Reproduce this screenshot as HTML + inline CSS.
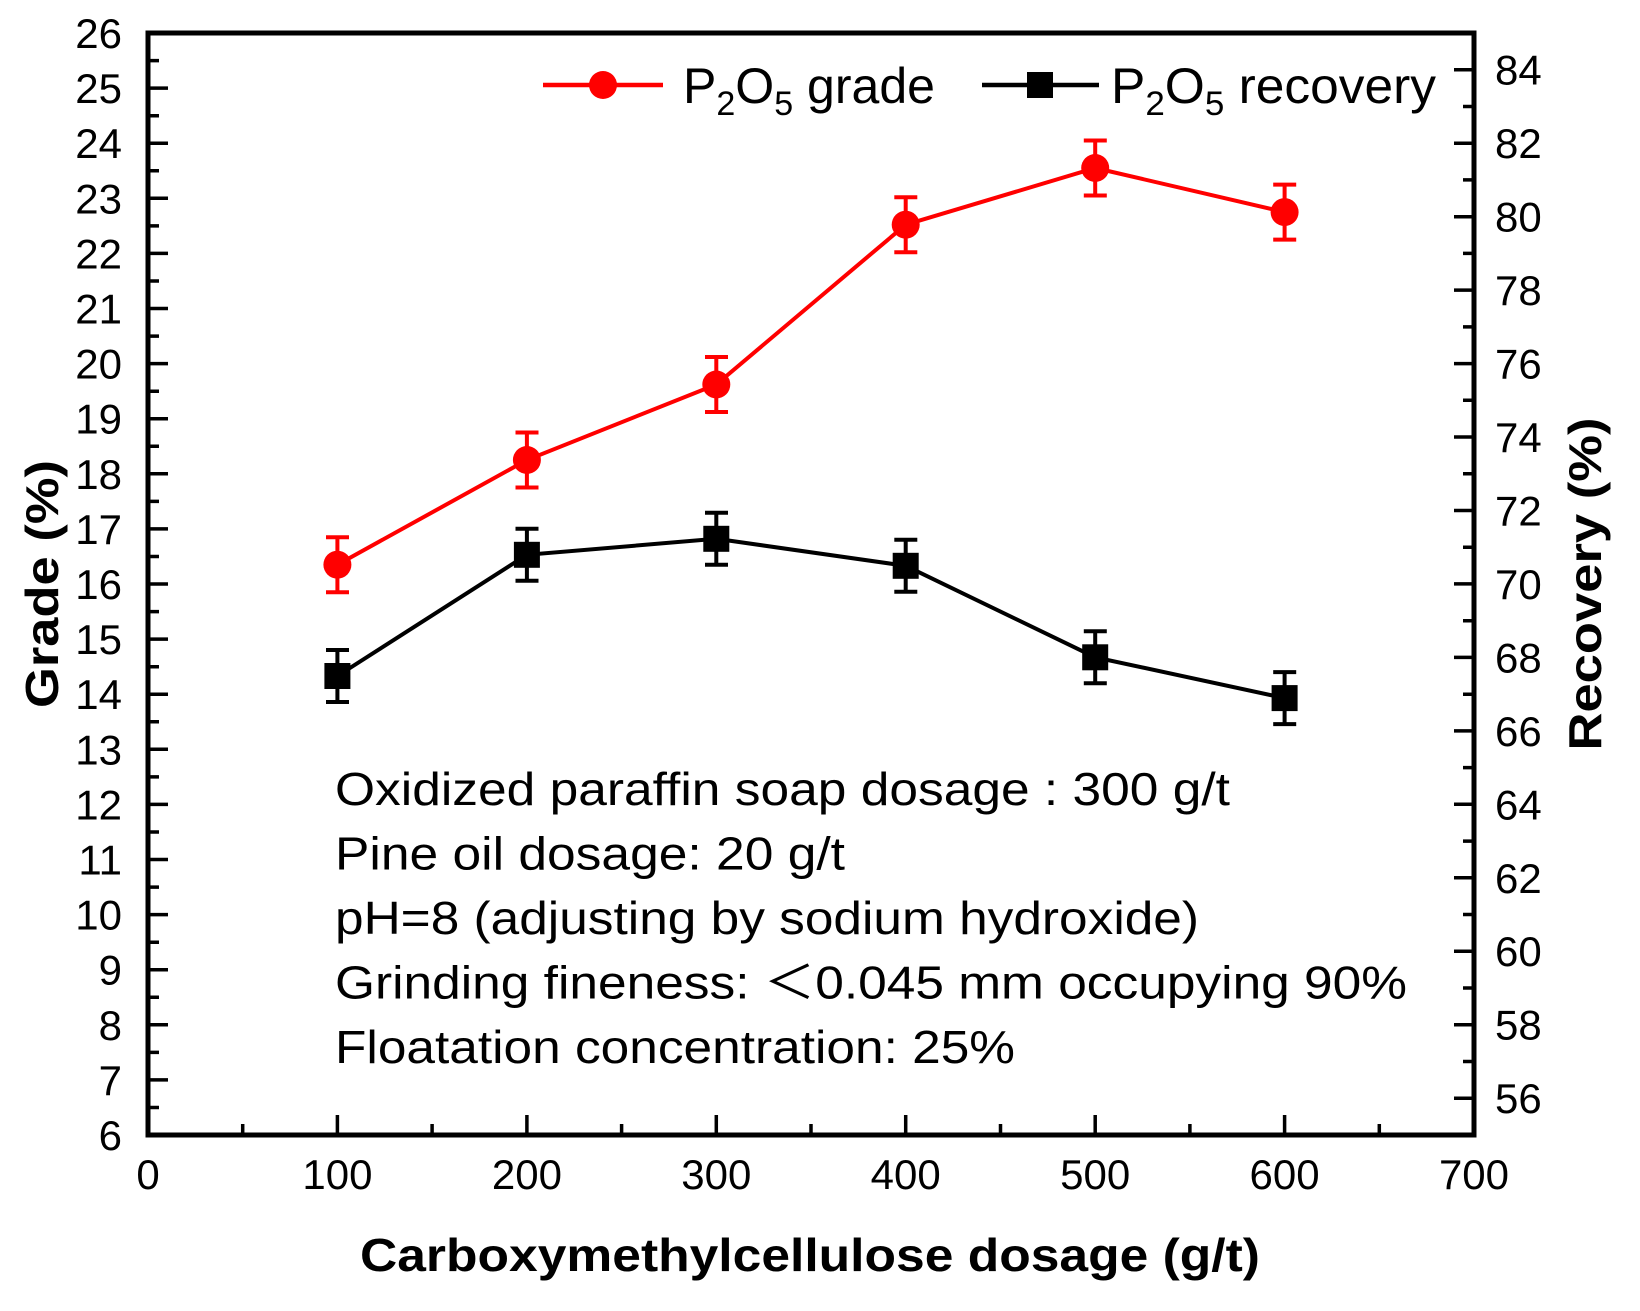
<!DOCTYPE html>
<html><head><meta charset="utf-8"><style>
html,body{margin:0;padding:0;background:#fff;}
svg{display:block;}
text{font-family:"Liberation Sans",Arial,sans-serif;}
</style></head><body>
<svg width="1640" height="1311" viewBox="0 0 1640 1311" xmlns="http://www.w3.org/2000/svg">
<rect width="1640" height="1311" fill="#fff"/>
<g stroke="#000" stroke-width="3.5" fill="none">
<path d="M150 88.1h18M150 143.2h18M150 198.3h18M150 253.4h18M150 308.5h18M150 363.6h18M150 418.7h18M150 473.8h18M150 528.9h18M150 584h18M150 639.1h18M150 694.2h18M150 749.3h18M150 804.4h18M150 859.5h18M150 914.6h18M150 969.7h18M150 1024.8h18M150 1079.9h18"/>
<path d="M150 60.6h9M150 115.7h9M150 170.8h9M150 225.9h9M150 281h9M150 336.1h9M150 391.2h9M150 446.3h9M150 501.4h9M150 556.5h9M150 611.6h9M150 666.7h9M150 721.8h9M150 776.9h9M150 832h9M150 887.1h9M150 942.2h9M150 997.3h9M150 1052.4h9M150 1107.5h9"/>
<path d="M1472 69.7h-18M1472 143.2h-18M1472 216.7h-18M1472 290.1h-18M1472 363.6h-18M1472 437h-18M1472 510.5h-18M1472 583.9h-18M1472 657.4h-18M1472 730.9h-18M1472 804.3h-18M1472 877.8h-18M1472 951.2h-18M1472 1024.7h-18M1472 1098.2h-18"/>
<path d="M1472 106.5h-9M1472 179.9h-9M1472 253.4h-9M1472 326.9h-9M1472 400.3h-9M1472 473.8h-9M1472 547.2h-9M1472 620.7h-9M1472 694.2h-9M1472 767.6h-9M1472 841.1h-9M1472 914.5h-9M1472 988h-9M1472 1061.5h-9"/>
<path d="M337.4 1133v-18M526.9 1133v-18M716.3 1133v-18M905.7 1133v-18M1095.2 1133v-18M1284.6 1133v-18"/>
<path d="M242.7 1133v-9M432.1 1133v-9M621.6 1133v-9M811 1133v-9M1000.5 1133v-9M1189.9 1133v-9M1379.3 1133v-9"/>
</g>
<rect x="148" y="33" width="1326" height="1102" fill="none" stroke="#000" stroke-width="5"/>
<g font-size="42" text-anchor="end">
<text x="122" y="48">26</text><text x="122" y="103.1">25</text><text x="122" y="158.2">24</text><text x="122" y="213.3">23</text><text x="122" y="268.4">22</text><text x="122" y="323.5">21</text><text x="122" y="378.6">20</text><text x="122" y="433.7">19</text><text x="122" y="488.8">18</text><text x="122" y="543.9">17</text><text x="122" y="599">16</text><text x="122" y="654.1">15</text><text x="122" y="709.2">14</text><text x="122" y="764.3">13</text><text x="122" y="819.4">12</text><text x="122" y="874.5">11</text><text x="122" y="929.6">10</text><text x="122" y="984.7">9</text><text x="122" y="1039.8">8</text><text x="122" y="1094.9">7</text><text x="122" y="1150">6</text>
</g>
<g font-size="42" text-anchor="start">
<text x="1495" y="84.7">84</text><text x="1495" y="158.2">82</text><text x="1495" y="231.7">80</text><text x="1495" y="305.1">78</text><text x="1495" y="378.6">76</text><text x="1495" y="452">74</text><text x="1495" y="525.5">72</text><text x="1495" y="598.9">70</text><text x="1495" y="672.4">68</text><text x="1495" y="745.9">66</text><text x="1495" y="819.3">64</text><text x="1495" y="892.8">62</text><text x="1495" y="966.2">60</text><text x="1495" y="1039.7">58</text><text x="1495" y="1113.2">56</text>
</g>
<g font-size="42" text-anchor="middle">
<text x="148" y="1189">0</text><text x="337.4" y="1189">100</text><text x="526.9" y="1189">200</text><text x="716.3" y="1189">300</text><text x="905.7" y="1189">400</text><text x="1095.2" y="1189">500</text><text x="1284.6" y="1189">600</text><text x="1474" y="1189">700</text>
</g>
<text x="360" y="1271" font-size="46" font-weight="bold" textLength="900" lengthAdjust="spacingAndGlyphs">Carboxymethylcellulose dosage (g/t)</text>
<text transform="translate(58,584) rotate(-90)" font-size="46" font-weight="bold" text-anchor="middle" textLength="248" lengthAdjust="spacingAndGlyphs">Grade (%)</text>
<text transform="translate(1601,584) rotate(-90)" font-size="46" font-weight="bold" text-anchor="middle" textLength="333" lengthAdjust="spacingAndGlyphs">Recovery (%)</text>
<g font-size="46">
<text x="335" y="805" textLength="895" lengthAdjust="spacingAndGlyphs">Oxidized paraffin soap dosage : 300 g/t</text>
<text x="335" y="869.5" textLength="510" lengthAdjust="spacingAndGlyphs">Pine oil dosage: 20 g/t</text>
<text x="335" y="934" textLength="864" lengthAdjust="spacingAndGlyphs">pH=8 (adjusting by sodium hydroxide)</text>
<text x="335" y="998.5" textLength="1072" lengthAdjust="spacingAndGlyphs">Grinding fineness: ＜0.045 mm occupying 90%</text>
<text x="335" y="1063" textLength="680" lengthAdjust="spacingAndGlyphs">Floatation concentration: 25%</text>
</g>
<g stroke="#f00" stroke-width="4" fill="none">
<polyline points="337.4,564.7 526.9,460 716.3,384.5 905.7,224.7 1095.2,168 1284.6,212.1"/>
<path d="M337.4 537.2v55M326 537.2h23M326 592.2h23 M526.9 432.5v55M515.5 432.5h23M515.5 487.5h23 M716.3 357v55M705 357h23M705 412h23 M905.7 197.2v55M894.3 197.2h23M894.3 252.2h23 M1095.2 140.5v55M1083.8 140.5h23M1083.8 195.5h23 M1284.6 184.6v55M1273.2 184.6h23M1273.2 239.6h23"/>
</g>
<g fill="#f00">
<circle cx="337.4" cy="564.7" r="14"/><circle cx="526.9" cy="460" r="14"/><circle cx="716.3" cy="384.5" r="14"/><circle cx="905.7" cy="224.7" r="14"/><circle cx="1095.2" cy="168" r="14"/><circle cx="1284.6" cy="212.1" r="14"/>
</g>
<g stroke="#000" stroke-width="4" fill="none">
<polyline points="337.4,676 526.9,554.8 716.3,538.8 905.7,565.8 1095.2,657.3 1284.6,698.1"/>
<path d="M337.4 650v52M326 650h23M326 702h23 M526.9 528.8v52M515.5 528.8h23M515.5 580.8h23 M716.3 512.8v52M705 512.8h23M705 564.8h23 M905.7 539.8v52M894.3 539.8h23M894.3 591.8h23 M1095.2 631.3v52M1083.8 631.3h23M1083.8 683.3h23 M1284.6 672.1v52M1273.2 672.1h23M1273.2 724.1h23"/>
</g>
<g fill="#000">
<rect x="324.4" y="663" width="26" height="26"/><rect x="513.9" y="541.8" width="26" height="26"/><rect x="703.3" y="525.8" width="26" height="26"/><rect x="892.7" y="552.8" width="26" height="26"/><rect x="1082.2" y="644.3" width="26" height="26"/><rect x="1271.6" y="685.1" width="26" height="26"/>
</g>
<line x1="543" y1="85" x2="663" y2="85" stroke="#f00" stroke-width="4.5"/>
<circle cx="603" cy="85" r="14" fill="#f00"/>
<text x="683" y="103" font-size="50" textLength="252" lengthAdjust="spacingAndGlyphs">P<tspan font-size="34" dy="12">2</tspan><tspan dy="-12">O</tspan><tspan font-size="34" dy="12">5</tspan><tspan dy="-12"> grade</tspan></text>
<line x1="982" y1="85" x2="1099" y2="85" stroke="#000" stroke-width="4.5"/>
<rect x="1027" y="72" width="26" height="26" fill="#000"/>
<text x="1111" y="103" font-size="50" textLength="325" lengthAdjust="spacingAndGlyphs">P<tspan font-size="34" dy="12">2</tspan><tspan dy="-12">O</tspan><tspan font-size="34" dy="12">5</tspan><tspan dy="-12"> recovery</tspan></text>
</svg>
</body></html>
